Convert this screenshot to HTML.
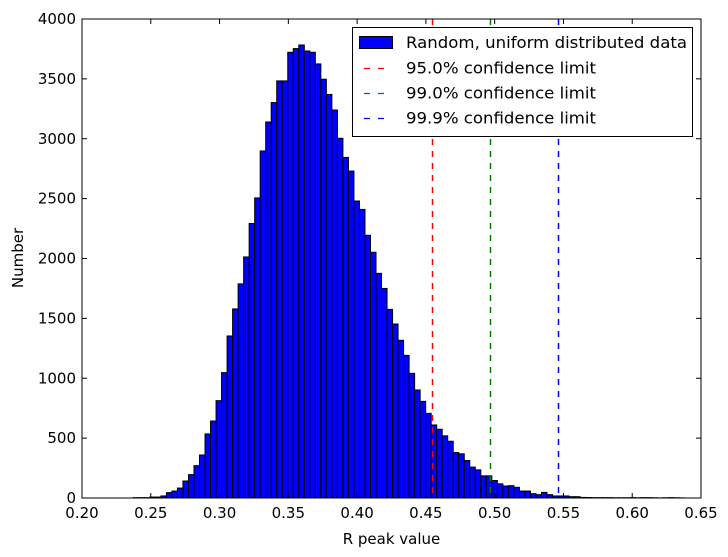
<!DOCTYPE html>
<html><head><meta charset="utf-8"><style>
body{margin:0;background:#fff}
svg{display:block;font-family:"DejaVu Sans","Liberation Sans",sans-serif}
</style></head><body>
<svg id="chart" width="728" height="557" viewBox="0 0 728 557" xmlns="http://www.w3.org/2000/svg">
<rect x="0" y="0" width="728" height="557" fill="#fff"/>
<g id="bars"></g>
<g id="vlines"></g>
<rect x="82" y="19" width="619" height="479" fill="none" stroke="#000" stroke-width="1"/>
<g id="ticks" font-size="15" fill="#000"></g>
<text x="391.5" y="544" font-size="15" text-anchor="middle">R peak value</text>
<text transform="translate(23,258) rotate(-90)" font-size="15" text-anchor="middle">Number</text>
<g>
<rect x="352.5" y="27.5" width="340" height="109" fill="#fff" stroke="#000"/>
<rect x="359.5" y="36.5" width="33" height="12" fill="#0000ff" stroke="#000"/>
<text x="406" y="48" font-size="16" textLength="281" lengthAdjust="spacingAndGlyphs">Random, uniform distributed data</text>
<line x1="364" y1="68.5" x2="390" y2="68.5" stroke="#ff0000" stroke-width="1.3" stroke-dasharray="6,8"/>
<text x="406" y="73.5" font-size="16" textLength="190" lengthAdjust="spacingAndGlyphs">95.0% confidence limit</text>
<line x1="364" y1="93.5" x2="390" y2="93.5" stroke="#008000" stroke-width="1.3" stroke-dasharray="6,8"/>
<text x="406" y="98.5" font-size="16" textLength="190" lengthAdjust="spacingAndGlyphs">99.0% confidence limit</text>
<line x1="364" y1="118.5" x2="390" y2="118.5" stroke="#0000ff" stroke-width="1.3" stroke-dasharray="6,8"/>
<text x="406" y="123.5" font-size="16" textLength="190" lengthAdjust="spacingAndGlyphs">99.9% confidence limit</text>
</g>
</svg>
<script>
const binStart = 0.2373;
const binWidth = 0.00401;
const counts = [3,3,3,8,8,17,45,58,83,142,195,270,359,535,643,813,1047,1353,1579,1788,2013,2292,2506,2898,3140,3302,3483,3483,3722,3753,3783,3733,3722,3625,3497,3370,3240,3004,2844,2730,2480,2410,2194,2052,1876,1750,1575,1453,1317,1191,1041,902,807,707,610,574,519,474,380,369,313,258,235,185,185,146,118,100,103,89,58,58,36,28,47,28,17,17,17,11,11,5,4,3,3,3,3,2,2,2,3,2,3,3,2,1,2,3,2,1];
const limits = [0.4544, 0.4966, 0.546];
const limitColors = ['#ff0000','#008000','#0000ff'];
const xTicks = [0.20,0.25,0.30,0.35,0.40,0.45,0.50,0.55,0.60,0.65];
const yTicks = [0,500,1000,1500,2000,2500,3000,3500,4000];
const NS='http://www.w3.org/2000/svg';
const X0=82,X1=701,Y0=498,Y1=19;
const xs=v=>X0+(v-0.20)/(0.45)*(X1-X0);
const ys=v=>Y0-v/4000*(Y0-Y1);
const bars=document.getElementById('bars');
counts.forEach((c,i)=>{
  const r=document.createElementNS(NS,'rect');
  const xa=xs(binStart+i*binWidth), xb=xs(binStart+(i+1)*binWidth);
  r.setAttribute('x',xa);r.setAttribute('y',ys(c));
  r.setAttribute('width',xb-xa);r.setAttribute('height',Y0-ys(c));
  r.setAttribute('fill','#0000ff');r.setAttribute('stroke','#000');r.setAttribute('stroke-width','1');
  
  
  bars.appendChild(r);
});
const vl=document.getElementById('vlines');
limits.forEach((v,i)=>{
  const l=document.createElementNS(NS,'line');
  const x=Math.round(xs(v))+0.5;
  l.setAttribute('x1',x);l.setAttribute('x2',x);
  l.setAttribute('y1',Y1);l.setAttribute('y2',Y0);
  l.setAttribute('stroke',limitColors[i]);l.setAttribute('stroke-width','1.5');
  l.setAttribute('stroke-dasharray','6,6');
  
  
  vl.appendChild(l);
});
const tk=document.getElementById('ticks');
function line(x1,y1,x2,y2){const l=document.createElementNS(NS,'line');l.setAttribute('x1',x1);l.setAttribute('y1',y1);l.setAttribute('x2',x2);l.setAttribute('y2',y2);l.setAttribute('stroke','#000');


tk.appendChild(l);}
xTicks.forEach(v=>{
  const x=xs(v);line(x,Y0,x,Y0-5);line(x,Y1,x,Y1+5);
  const t=document.createElementNS(NS,'text');t.setAttribute('x',x);t.setAttribute('y',Y0+20);t.setAttribute('text-anchor','middle');t.textContent=v.toFixed(2);
  
  
  tk.appendChild(t);
});
yTicks.forEach(v=>{
  const y=ys(v);line(X0,y,X0+5,y);line(X1,y,X1-5,y);
  const t=document.createElementNS(NS,'text');t.setAttribute('x',X0-6);t.setAttribute('y',y+5);t.setAttribute('text-anchor','end');t.textContent=v;
  
  
  tk.appendChild(t);
});
</script>
</body></html>
